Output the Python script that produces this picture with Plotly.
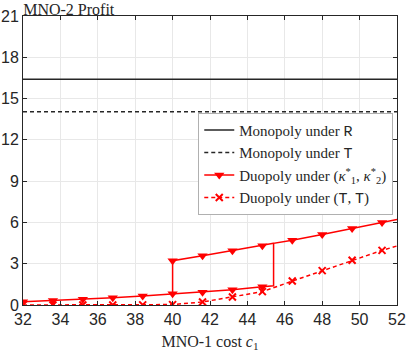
import plotly.graph_objects as go

# MNO-1 cost values
cost_low = [32, 33.6, 35.2, 36.8, 38.4, 40, 41.6, 43.2, 44.8, 45.4]
cost_up = [40, 41.6, 43.2, 44.8, 45.4, 46.4, 48, 49.6, 51.2, 52]
cost_tt = [32, 33.6, 35.2, 36.8, 38.4, 40, 41.6, 43.2, 44.8, 46.4, 48, 49.6, 51.2, 52]

# MNO-2 profit values
mono_R = 16.4
mono_T = 14.05
low_vals = [0.24, 0.32, 0.42, 0.53, 0.66, 0.82, 0.93, 1.1, 1.32, 1.4]
up_vals = [3.22, 3.58, 3.95, 4.3, 4.48, 4.7, 5.12, 5.55, 6.0, 6.22]
tt_vals = [0.0, 0.0, 0.0, 0.0, 0.01, 0.03, 0.22, 0.58, 0.97, 1.74, 2.5, 3.25, 3.97, 4.29]

x_ticks = list(range(32, 53, 2))
y_ticks = list(range(0, 22, 3))

RED = "#ff0000"
DARK = "#262626"
SERIF = "Liberation Serif"
MONO = "Liberation Mono"
DASH = "4px,3px"

fig = go.Figure()

# monopoly lines
fig.add_trace(go.Scatter(x=[32, 52], y=[mono_R, mono_R], mode="lines",
                         line=dict(color=DARK, width=1.5),
                         name="Monopoly under <span style='font-family:%s'>R</span>" % MONO))
fig.add_trace(go.Scatter(x=[32, 52], y=[mono_T, mono_T], mode="lines",
                         line=dict(color=DARK, width=1.5, dash=DASH),
                         name="Monopoly under <span style='font-family:%s'>T</span>" % MONO))

# duopoly (kappa*) path: lower branch, jump at 45.4, upper branch; plus jump at 40
path_x = cost_low + cost_up[4:] + [None] + [cost_low[5]] + cost_up[:5]
path_y = low_vals + up_vals[4:] + [None] + [low_vals[5]] + up_vals[:5]
fig.add_trace(go.Scatter(x=path_x, y=path_y, mode="lines",
                         line=dict(color=RED, width=1.5), showlegend=False))
mk_x = cost_low[:9] + cost_up[:4] + cost_up[5:9]
mk_y = low_vals[:9] + up_vals[:4] + up_vals[5:9]
fig.add_trace(go.Scatter(x=mk_x, y=mk_y, mode="markers",
                         marker=dict(symbol="triangle-down", size=9, color=RED),
                         showlegend=False))
fig.add_trace(go.Scatter(x=[None], y=[None], mode="lines+markers",
                         line=dict(color=RED, width=1.5),
                         marker=dict(symbol="triangle-down", size=9, color=RED),
                         name="Duopoly under (<i>κ</i><sup>*</sup><sub>1</sub>, <i>κ</i><sup>*</sup><sub>2</sub>)"))

# duopoly (T,T)
fig.add_trace(go.Scatter(x=cost_tt, y=tt_vals, mode="lines",
                         line=dict(color=RED, width=1.5, dash=DASH), showlegend=False))
fig.add_trace(go.Scatter(x=cost_tt[:-1], y=tt_vals[:-1], mode="markers",
                         marker=dict(symbol="x-thin", size=7, line=dict(color=RED, width=2)),
                         showlegend=False))
fig.add_trace(go.Scatter(x=[None], y=[None], mode="lines+markers",
                         line=dict(color=RED, width=1.5, dash=DASH),
                         marker=dict(symbol="x-thin", size=7, line=dict(color=RED, width=2)),
                         name="Duopoly under (<span style='font-family:%s'>T</span>, <span style='font-family:%s'>T</span>)" % (MONO, MONO)))

axis_common = dict(showline=True, linecolor=DARK, linewidth=1, mirror="ticks",
                   ticks="inside", ticklen=4, tickcolor=DARK, automargin=False,
                   showgrid=True, gridcolor="#e8e8e8", gridwidth=1, zeroline=False,
                   tickfont=dict(family="Liberation Sans", size=16, color=DARK))

fig.update_xaxes(range=[32, 52], tickvals=x_ticks,
                 title=dict(text="MNO-1 cost <i>c</i><sub>1</sub>", standoff=8,
                            font=dict(family=SERIF, size=16, color=DARK)),
                 **axis_common)
fig.update_yaxes(range=[0, 21], tickvals=y_ticks, **axis_common)

fig.update_layout(
    width=407, height=352,
    margin=dict(l=23, r=10, t=16, b=47),
    plot_bgcolor="white", paper_bgcolor="white",
    title=dict(text="MNO-2 Profit", x=0.057, xanchor="left", y=0.99, yanchor="top",
               font=dict(family=SERIF, size=16, color=DARK)),
    legend=dict(x=0.99, xanchor="right", y=0.665, yanchor="top",
                bgcolor="white", bordercolor="#b0b0b0", borderwidth=1,
                font=dict(family=SERIF, size=15, color=DARK),
                tracegroupgap=0, itemwidth=30),
)

fig.write_html("out.html", config={"displayModeBar": False},
               post_script="document.body.style.margin='0';")
